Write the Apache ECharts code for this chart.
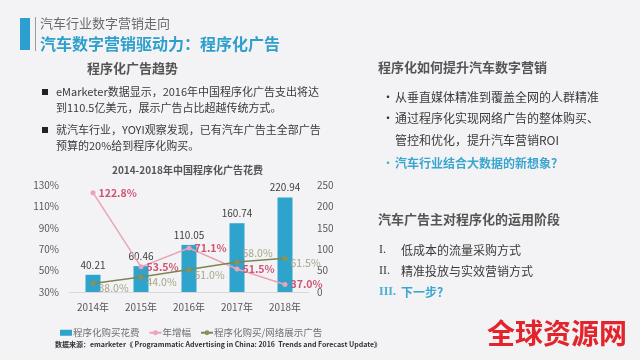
<!DOCTYPE html>
<html><head><meta charset="utf-8">
<script src="https://cdn.jsdelivr.net/npm/echarts@6/dist/echarts.min.js"></script>
<style>html,body{margin:0;padding:0;background:#f3f3f5;}#c{width:640px;height:360px;}</style>
</head><body><div id="c"></div>
<script>
var years = ['2014年','2015年','2016年','2017年','2018年'];
var spend = [40.21, 60.46, 110.05, 160.74, 220.94];
var growth = [122.8, 53.5, 71.1, 51.5, 37.0];
var share = [38.0, 44.0, 51.0, 58.0, 61.5];
var leftTicks = {min: 30, max: 130, interval: 20};
var rightTicks = {min: 0, max: 250, interval: 50};
var seriesNames = ['程序化购买花费', '年增幅', '程序化购买/网络展示广告'];

var FF = '"Noto Sans CJK SC", "Noto Sans", sans-serif';
var chart = echarts.init(document.getElementById('c'), null, {renderer: 'canvas'});

function txt(x, y, s, size, color, weight, extra) {
  var o = {type: 'text', x: x, y: y, style: {text: s, fontSize: size, fill: color, fontWeight: weight || 'normal', fontFamily: FF, textVerticalAlign: 'middle'}};
  if (extra) for (var k in extra) o.style[k] = extra[k];
  return o;
}

var graphics = [
  {type: 'rect', shape: {x: 20, y: 18, width: 10, height: 32}, style: {fill: '#2a9fd0'}},
  {type: 'rect', shape: {x: 35, y: 17, width: 1, height: 34}, style: {fill: '#9a9a9a'}},
  txt(40, 23, '汽车行业数字营销走向', 13, '#6a6a6a'),
  txt(40, 44, '汽车数字营销驱动力：程序化广告', 16, '#2f9fcb', 'bold'),
  txt(87, 68, '程序化广告趋势', 13, '#555555', 'bold'),
  {type: 'rect', shape: {x: 42, y: 89, width: 6, height: 6}, style: {fill: '#222'}},
  txt(56, 92, 'eMarketer数据显示，2016年中国程序化广告支出将达', 11, '#3a3a3a'),
  txt(56, 108, '到110.5亿美元，展示广告占比超越传统方式。', 11, '#3a3a3a'),
  {type: 'rect', shape: {x: 42, y: 127, width: 6, height: 6}, style: {fill: '#222'}},
  txt(56, 130, '就汽车行业，YOYI观察发现，已有汽车广告主全部广告', 11, '#3a3a3a'),
  txt(56, 146, '预算的20%给到程序化购买。', 11, '#3a3a3a'),
  txt(112, 170, '2014-2018年中国程序化广告花费', 10, '#555555', 'bold'),
  txt(55, 344, '数据来源：emarketer《 Programmatic Advertising in China: 2016  Trends and Forecast Update》', 7, '#333333', 'bold'),
  txt(378, 67, '程序化如何提升汽车数字营销', 13, '#555555', 'bold'),
  txt(382, 97, '•', 12, '#333'),
  txt(395, 97, '从垂直媒体精准到覆盖全网的人群精准', 12, '#3a3a3a'),
  txt(382, 118, '•', 12, '#333'),
  txt(395, 118, '通过程序化实现网络广告的整体购买、', 12, '#3a3a3a'),
  txt(395, 140, '管控和优化，提升汽车营销ROI', 12, '#3a3a3a'),
  txt(382, 163, '•', 12, '#4aaed0'),
  txt(395, 163, '汽车行业结合大数据的新想象？', 12, '#3aa6cf', 'bold'),
  txt(378, 219, '汽车广告主对程序化的运用阶段', 13, '#555555', 'bold'),
  txt(379, 250, 'I.', 12, '#3a3a3a', 'normal', {fontFamily: '"Liberation Serif", serif'}),
  txt(401, 250, '低成本的流量采购方式', 12, '#3a3a3a'),
  txt(379, 271, 'II.', 12, '#3a3a3a', 'normal', {fontFamily: '"Liberation Serif", serif'}),
  txt(401, 271, '精准投放与实效营销方式', 12, '#3a3a3a'),
  txt(379, 292, 'III.', 12, '#4aaed0', 'bold', {fontFamily: '"Liberation Serif", serif'}),
  txt(401, 292, '下一步？', 12, '#3aa6cf', 'bold'),
  txt(487, 333, '全球资源网', 28, '#e3242b', 'bold')
];

var shareData = share.map(function (v, i) {
  return i === 3 ? {value: v, label: {offset: [0, -9]}} : v;
});

var option = {
  backgroundColor: '#f3f3f5',
  animation: false,
  textStyle: {fontFamily: FF},
  graphic: graphics,
  grid: {left: 69, right: 331, top: 185, bottom: 68},
  legend: {
    left: 55, top: 323, itemGap: 9, itemWidth: 12, itemHeight: 6,
    textStyle: {fontSize: 9.5, color: '#707070', fontFamily: FF, padding: [0, 0, 0, -4]},
    data: [
      {name: seriesNames[0], icon: 'rect'},
      {name: seriesNames[1]},
      {name: seriesNames[2]}
    ]
  },
  xAxis: {
    type: 'category', data: years,
    axisLine: {lineStyle: {color: '#d9d9d9'}}, axisTick: {show: false},
    axisLabel: {color: '#595959', fontSize: 10, margin: 10, fontFamily: FF}
  },
  yAxis: [
    {type: 'value', min: leftTicks.min, max: leftTicks.max, interval: leftTicks.interval,
     splitLine: {show: false}, axisLine: {show: false}, axisTick: {show: false},
     axisLabel: {formatter: '{value}%', color: '#595959', fontSize: 10, margin: 10, fontFamily: FF}},
    {type: 'value', min: rightTicks.min, max: rightTicks.max, interval: rightTicks.interval,
     splitLine: {show: false}, axisLine: {show: false}, axisTick: {show: false},
     axisLabel: {color: '#595959', fontSize: 10, margin: 8, fontFamily: FF}}
  ],
  series: [
    {name: seriesNames[0], type: 'bar', yAxisIndex: 1, data: spend, barWidth: 15, z: 2,
     itemStyle: {color: '#2ea3cc'},
     label: {show: true, position: 'top', color: '#404040', fontSize: 10, distance: 5, fontFamily: FF}},
    {name: seriesNames[1], type: 'line', yAxisIndex: 0, data: growth, z: 3,
     symbol: 'circle', symbolSize: 5,
     lineStyle: {color: '#eba3b5', width: 1.5}, itemStyle: {color: '#eba3b5'},
     label: {show: true, position: 'right', distance: 3, color: '#cf5473', fontSize: 10.5, fontWeight: 'bold',
             formatter: function (p) { return p.value.toFixed(1) + '%'; }}},
    {name: seriesNames[2], type: 'line', yAxisIndex: 0, data: shareData, z: 3,
     symbol: 'circle', symbolSize: 5,
     lineStyle: {color: '#7d8550', width: 1.5}, itemStyle: {color: '#8b9258'},
     label: {show: true, position: 'right', distance: 3, offset: [0, 5], color: '#a6a68a', fontSize: 10.5,
             formatter: function (p) { return p.value.toFixed(1) + '%'; }}}
  ]
};
chart.setOption(option);
</script>
</body></html>
